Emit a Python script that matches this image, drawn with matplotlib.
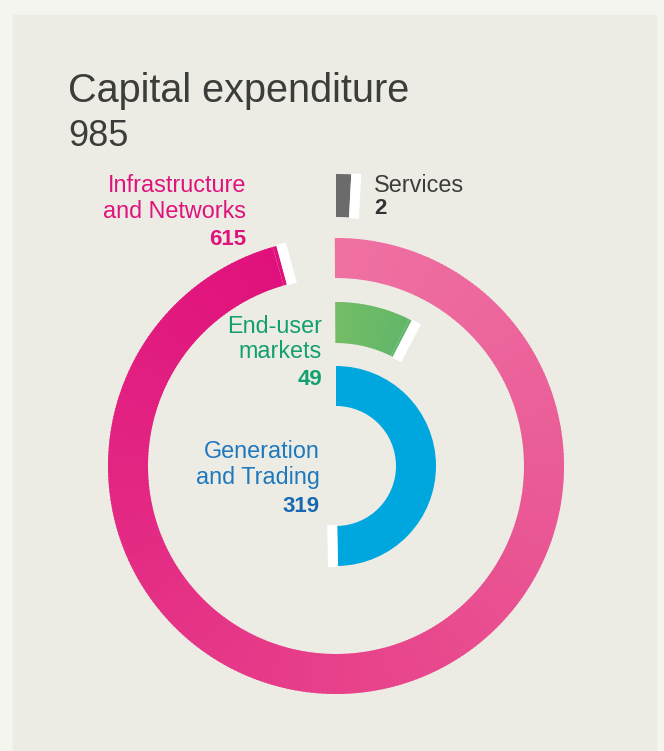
import numpy as np
import matplotlib
matplotlib.use("Agg")
import matplotlib.pyplot as plt
from matplotlib.patches import Wedge, Rectangle, Polygon
from matplotlib.colors import LinearSegmentedColormap

plt.rcParams['font.family'] = ['Liberation Sans', 'DejaVu Sans']

# data
title = "Capital expenditure"
total = 985
segments = ["Services", "Infrastructure\nand Networks", "End-user\nmarkets", "Generation\nand Trading"]
values = [2, 615, 49, 319]

# ring layout (outermost first), in pixels
W, H = 664, 751
cx, cy = 336, H - 466
radii = [292, 228, 164, 100]
widths = [43, 40, 41, 40]
full_scale = 642          # value that would fill a whole circle
min_sweep = 3.0
cap_w = 10

fig = plt.figure(figsize=(W / 100, H / 100), dpi=100, facecolor="#F5F5EF")
ax = fig.add_axes([0, 0, 1, 1])
ax.set_xlim(0, W)
ax.set_ylim(0, H)
ax.set_aspect("equal")
ax.axis("off")

ax.add_patch(Rectangle((13, 0), 643, H - 15, color="#ECEBE4", zorder=0))

pink = LinearSegmentedColormap.from_list(
    "pink", ["#EF71A2", "#EA5D97", "#E8438B", "#E32883", "#E0117C"])
green = LinearSegmentedColormap.from_list("green", ["#73BD65", "#63B76A"])


def ring(r, w, sweep, cmap=None, color=None):
    n = max(int(sweep), 1) if cmap is not None else 1
    step = sweep / n
    for i in range(n):
        a0 = 90 - (i + 1) * step
        a1 = 90 - i * step
        c = cmap(i / max(n - 1, 1)) if cmap is not None else color
        ax.add_patch(Wedge((cx, cy), r, a0, a1 + (0.3 if i < n - 1 else 0),
                           width=w, facecolor=c, edgecolor="none", zorder=2))
    # white cap after the arc end
    ang = np.deg2rad(90 - sweep)
    u = np.array([np.cos(ang), np.sin(ang)])
    t = np.array([np.sin(ang), -np.cos(ang)])
    c0 = np.array([cx, cy])
    r_in, r_out = r - w - 1, r + 1
    pts = [c0 + r_in * u, c0 + r_out * u, c0 + r_out * u + cap_w * t, c0 + r_in * u + cap_w * t]
    ax.add_patch(Polygon(pts, closed=True, facecolor="white", edgecolor="none", zorder=3))


styles = [dict(color="#6B6B6B"), dict(cmap=pink), dict(cmap=green), dict(color="#00A7DE")]
for v, r, w, st in zip(values, radii, widths, styles):
    sweep = max(v * 360 / full_scale, min_sweep)
    ring(r, w, sweep, **st)

# title
ax.text(68, H - 102, title, fontsize=28.5, color="#3C3C3B", va="baseline", ha="left")
ax.text(68, H - 146, str(total), fontsize=26, color="#3C3C3B", va="baseline", ha="left")

# labels
label_specs = [
    # name colour, value colour, x, ha, baselines
    ("#3C3C3B", "#333333", 374, "left", [192, 214]),
    ("#E0127C", "#E0127C", 246, "right", [192, 218, 245]),
    ("#13A070", "#13A070", 322, "right", [333, 358, 385]),
    ("#1E78BE", "#1768B0", 320, "right", [458, 484, 512]),
]
for name, v, (nc, vc, x, ha, ys) in zip(segments, values, label_specs):
    lines = name.split("\n")
    for line, y in zip(lines, ys):
        ax.text(x, H - y, line, fontsize=16.8, color=nc, ha=ha, va="baseline")
    ax.text(x, H - ys[len(lines)], str(v), fontsize=16, fontweight="bold",
            color=vc, ha=ha, va="baseline")

fig.savefig("out.png", dpi=100, facecolor=fig.get_facecolor())
